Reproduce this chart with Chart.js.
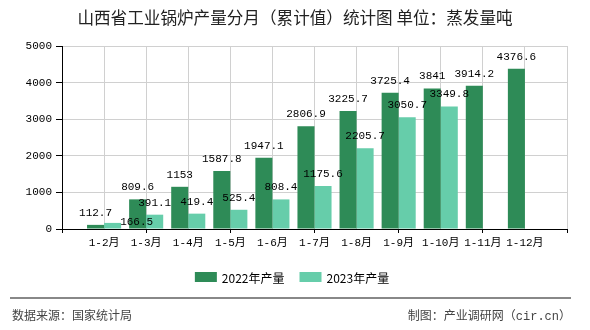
<!DOCTYPE html>
<html>
<head>
<meta charset="utf-8">
<script src="https://cdn.jsdelivr.net/npm/chart.js@4/dist/chart.umd.min.js"></script>
<style>
  html, body { margin: 0; padding: 0; background: #fff; }
  #wrap { width: 590px; height: 330px; position: relative; }
</style>
</head>
<body>
<div id="wrap"><canvas id="chart" width="590" height="330"></canvas></div>
<script>
const title = "山西省工业锅炉产量分月（累计值）统计图 单位：蒸发量吨";
const categories = ["1-2月", "1-3月", "1-4月", "1-5月", "1-6月", "1-7月", "1-8月", "1-9月", "1-10月", "1-11月", "1-12月"];
const values2022 = [112.7, 809.6, 1153, 1587.8, 1947.1, 2806.9, 3225.7, 3725.4, 3841, 3914.2, 4376.6];
const values2023 = [166.5, 391.1, 419.4, 525.4, 808.4, 1175.6, 2205.7, 3050.7, 3349.8, null, null];
const seriesNames = ["2022年产量", "2023年产量"];
const seriesColors = ["#2e8b57", "#66cdaa"];
const yMax = 5000;
const yStep = 1000;
const sourceText = "数据来源：国家统计局";
const creditText = "制图：产业调研网（cir.cn）";

const monoFont = '"Liberation Mono", "Noto Sans CJK SC", monospace';
const sansFont = '"Noto Sans CJK SC", "Liberation Sans", sans-serif';

// empty slot at each end so the ticks sit like the original axis
const labels = ["", ...categories, ""];
const pad = (arr) => [null, ...arr, null];

// value labels above bars; a label that would collide is moved beside its bar
const barLabels = {
  id: "barLabels",
  afterDatasetsDraw(chart) {
    const ctx = chart.ctx;
    ctx.save();
    ctx.font = "11px " + monoFont;
    ctx.fillStyle = "#000";
    ctx.textBaseline = "middle";
    const placed = [];
    const hits = (r) => placed.some((p) =>
      r.x1 < p.x2 && r.x2 > p.x1 && r.y1 < p.y2 && r.y2 > p.y1);
    chart.data.datasets.forEach((ds, i) => {
      chart.getDatasetMeta(i).data.forEach((bar, j) => {
        const v = ds.data[j];
        if (v == null) return;
        const txt = String(v);
        const w = ctx.measureText(txt).width;
        let cx = bar.x, cy = bar.y - 12;
        let r = { x1: cx - w / 2, x2: cx + w / 2, y1: cy - 5, y2: cy + 5 };
        if (hits(r)) {
          cx = bar.x + bar.width / 2 + w / 2 - 1;
          cy = bar.y - 1;
          r = { x1: cx - w / 2, x2: cx + w / 2, y1: cy - 5, y2: cy + 5 };
        }
        placed.push(r);
        ctx.textAlign = "center";
        ctx.fillText(txt, cx, cy);
      });
    });
    ctx.restore();
  },
};

// title, legend and footer
const decor = {
  id: "decor",
  afterDraw(chart) {
    const ctx = chart.ctx;
    ctx.save();
    ctx.fillStyle = "#222";
    ctx.font = "16.6px " + sansFont;
    ctx.textAlign = "center";
    ctx.textBaseline = "middle";
    ctx.fillText(title, 295, 18);

    // legend
    ctx.font = "12px " + sansFont;
    ctx.textAlign = "left";
    const boxW = 22, boxH = 10, gap = 5, spacing = 15;
    const widths = seriesNames.map((n) => boxW + gap + ctx.measureText(n).width);
    const total = widths.reduce((a, b) => a + b, 0) + spacing * (widths.length - 1);
    let x = 292 - total / 2;
    const ly = 277;
    seriesNames.forEach((n, i) => {
      ctx.fillStyle = seriesColors[i];
      ctx.fillRect(x, ly - boxH / 2, boxW, boxH);
      ctx.fillStyle = "#000";
      ctx.fillText(n, x + boxW + gap, ly + 1);
      x += widths[i] + spacing;
    });

    // footer
    ctx.strokeStyle = "#888";
    ctx.lineWidth = 2;
    ctx.beginPath();
    ctx.moveTo(10, 298);
    ctx.lineTo(571, 298);
    ctx.stroke();
    ctx.fillStyle = "#444";
    ctx.font = "12px " + monoFont;
    ctx.fillText(sourceText, 12, 317);
    ctx.textAlign = "right";
    ctx.fillText(creditText, 571, 317);
    ctx.restore();
  },
};

new Chart(document.getElementById("chart"), {
  type: "bar",
  data: {
    labels,
    datasets: [
      {
        label: seriesNames[0],
        data: pad(values2022),
        backgroundColor: seriesColors[0],
        categoryPercentage: 0.81,
        barPercentage: 1,
      },
      {
        label: seriesNames[1],
        data: pad(values2023),
        backgroundColor: seriesColors[1],
        categoryPercentage: 0.81,
        barPercentage: 1,
      },
    ],
  },
  options: {
    responsive: false,
    animation: false,
    layout: { padding: { left: 0, right: 23, top: 46, bottom: 76 } },
    plugins: {
      legend: { display: false },
      title: { display: false },
      tooltip: { enabled: false },
    },
    scales: {
      x: {
        offset: false,
        afterFit: (s) => { s.height = 25; },
        grid: {
          offset: false,
          color: (c) => (c.index === 0 ? "rgba(0,0,0,0)" : "#d0d0d0"),
          tickColor: (c) => (c.index % 2 === 0 ? "#000" : "rgba(0,0,0,0)"),
          tickLength: 4,
        },
        border: { color: "#000", width: 1 },
        ticks: {
          color: "#000",
          font: { family: monoFont, size: 11 },
          padding: 3,
          autoSkip: false,
          maxRotation: 0,
        },
      },
      y: {
        min: 0,
        max: yMax,
        afterFit: (s) => { s.width = 62; },
        grid: {
          color: (c) => (c.index === 0 ? "rgba(0,0,0,0)" : "#d0d0d0"),
          tickColor: "#000",
          tickLength: 6,
        },
        border: { color: "#000", width: 1 },
        ticks: {
          stepSize: yStep,
          color: "#000",
          font: { family: monoFont, size: 11 },
          padding: 4,
          callback: (v) => String(v),
        },
      },
    },
  },
  plugins: [barLabels, decor],
});
</script>
</body>
</html>
